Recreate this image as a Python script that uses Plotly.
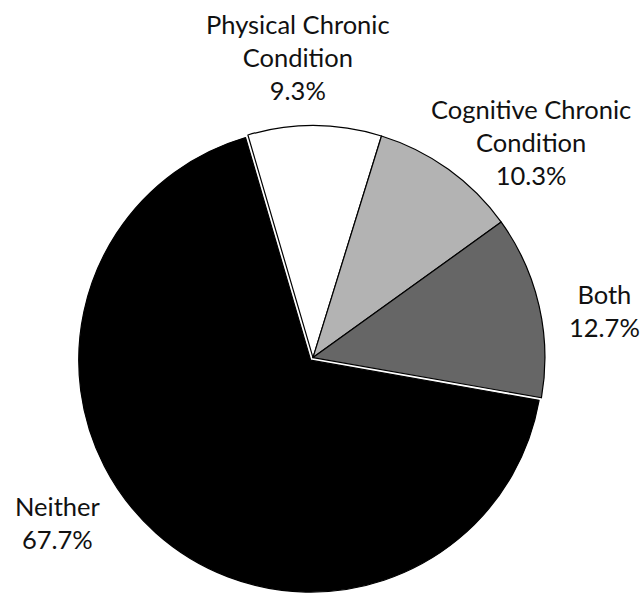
import plotly.graph_objects as go

# Share of respondents by chronic condition type
categories = ["Physical Chronic<br>Condition", "Cognitive Chronic<br>Condition", "Both", "Neither"]
shares = [9.3, 10.3, 12.7, 67.7]
slice_colors = ["#ffffff", "#b3b3b3", "#666666", "#000000"]
slice_pull = [0, 0, 0, 0.015]

W, H = 644, 593

fig = go.Figure(
    go.Pie(
        labels=categories,
        values=shares,
        sort=False,
        direction="clockwise",
        rotation=-16.3,
        pull=slice_pull,
        marker=dict(colors=slice_colors, line=dict(color="#000000", width=1.2)),
        textinfo="none",
        hoverinfo="skip",
        showlegend=False,
        domain=dict(x=[0, 0.972], y=[0, 0.794]),
    )
)

# Outside labels: (center x, center y) in pixels for each category's text block
label_pos = [(298, 57), (531, 142), (604, 310), (57, 522)]
for name, val, (px, py) in zip(categories, shares, label_pos):
    fig.add_annotation(
        text=f"{name}<br>{val:.1f}%",
        x=px / W,
        y=1 - py / H,
        xref="paper",
        yref="paper",
        xanchor="center",
        yanchor="middle",
        showarrow=False,
        align="center",
        font=dict(family="Lato", size=25.5, color="#111111"),
    )

fig.update_layout(
    width=W,
    height=H,
    margin=dict(l=0, r=0, t=0, b=0),
    paper_bgcolor="white",
    plot_bgcolor="white",
)

fig.write_html("out.html")
